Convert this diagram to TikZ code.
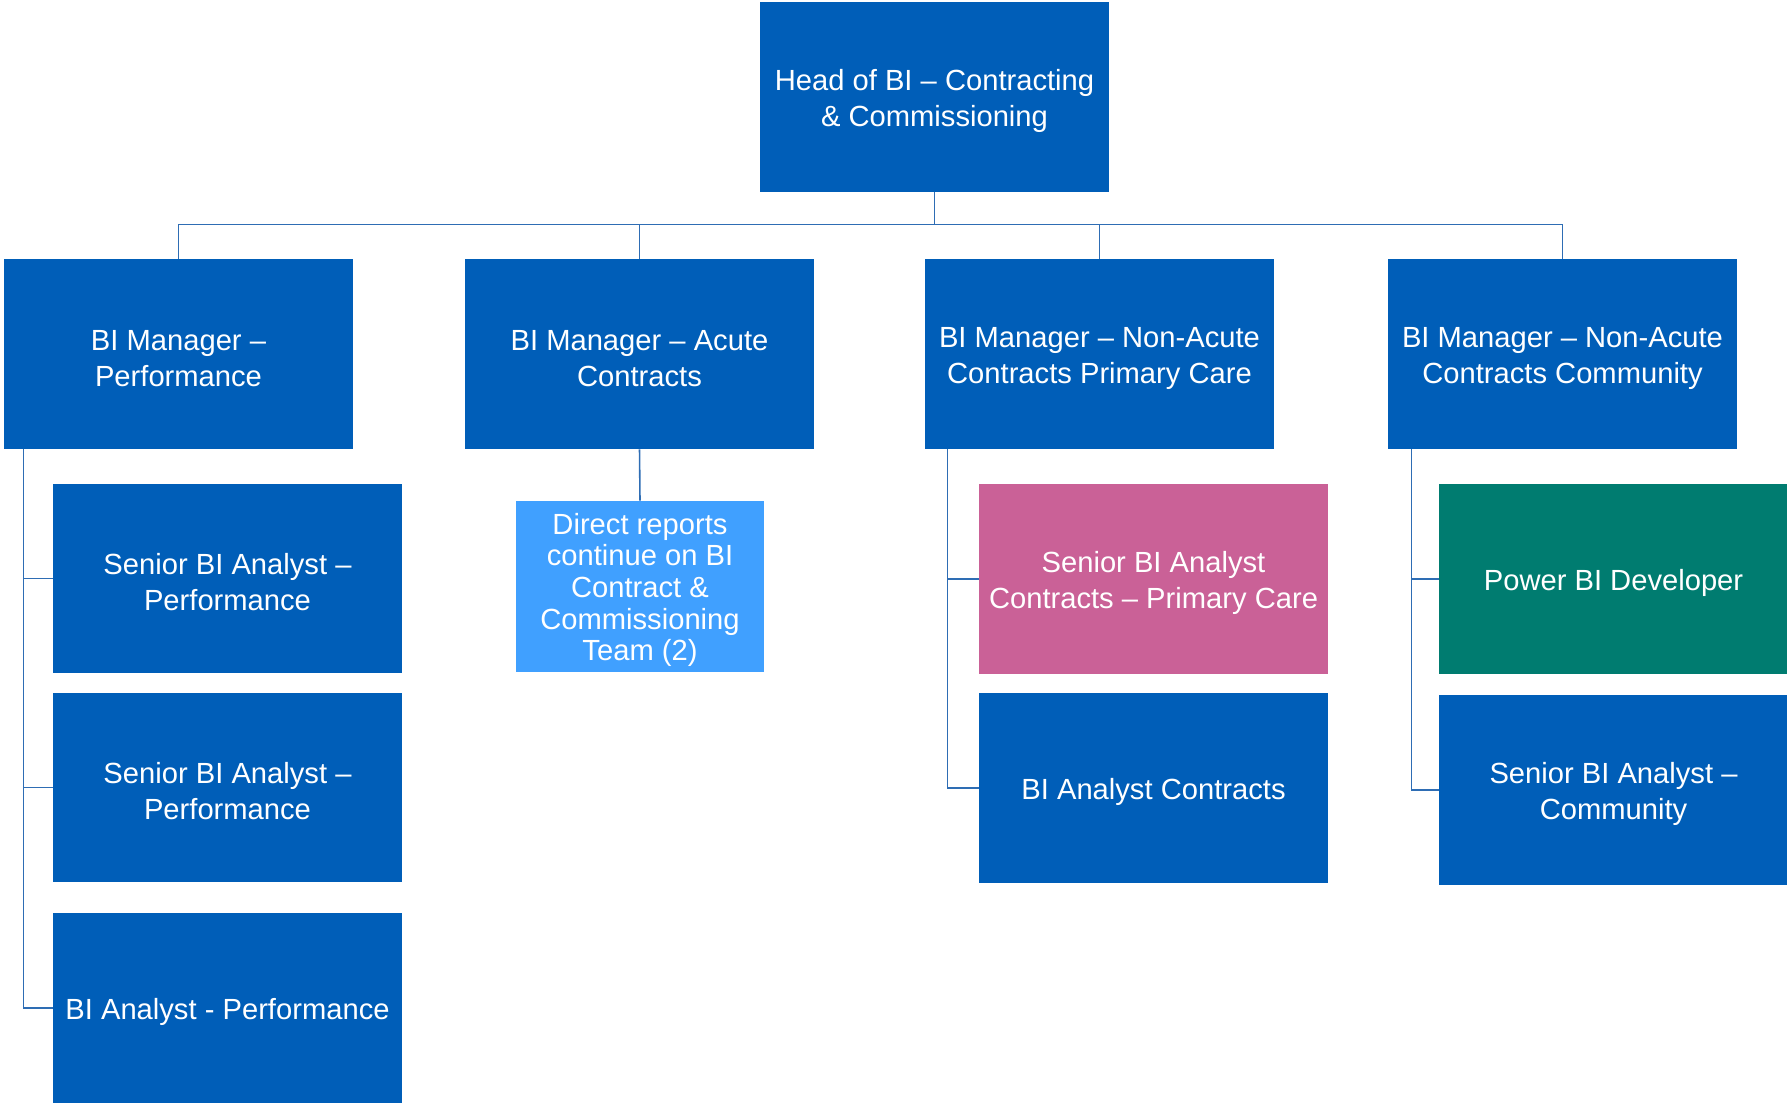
\documentclass[tikz,border=0pt]{standalone}
\usepackage{fontspec}
\setmainfont{Liberation Sans}
\usepackage{tikz}
\usetikzlibrary{calc}

\definecolor{nhsblue}{HTML}{005EB8}
\definecolor{lightblue}{HTML}{40A0FF}
\definecolor{rose}{HTML}{CA6197}
\definecolor{teal}{HTML}{007C70}
\definecolor{linkblue}{HTML}{2E6DB4}

\tikzset{
  lift/.store in=\liftht, lift=37pt,
  post/.style={fill=nhsblue, text=white, minimum width=6.98cm, minimum height=3.8cm,
    align=center, inner sep=2pt, font=\fontsize{16.6}{20.5}\selectfont,
    execute at begin node={\rule{0pt}{\liftht}}},
  single/.style={lift=16pt},
  link/.style={draw=linkblue, line width=0.9pt}
}

\begin{document}
\begin{tikzpicture}[x=0.02cm, y=-0.02cm]
\clip (0,0) rectangle (1787,1102);

\node[post] (head) at (934.5,97) {Head of BI -- Contracting\\ \& Commissioning};

\node[post] (m1) at (178.5,354) {BI Manager --\\ Performance};
\node[post] (m2) at (639.5,354) {BI Manager -- Acute\\ Contracts};
\node[post] (m3) at (1099.5,354) {BI Manager -- Non-Acute\\ Contracts Primary Care};
\node[post] (m4) at (1562.5,354) {BI Manager -- Non-Acute\\ Contracts Community};

\node[post] (a1) at (227.5,578.5) {Senior BI Analyst --\\ Performance};
\node[post] (a2) at (227.5,787.5) {Senior BI Analyst --\\ Performance};
\node[post, single] (a3) at (227.5,1008) {BI Analyst - Performance};

\node[post, fill=lightblue, minimum width=4.96cm, minimum height=3.42cm,
  font=\fontsize{16.6}{18}\selectfont, lift=88pt] (d) at (640,586.5)
  {Direct reports\\ continue on BI\\ Contract \&\\ Commissioning\\ Team (2)};

\node[post, fill=rose] (c1) at (1153.5,579) {Senior BI Analyst\\ Contracts -- Primary Care};
\node[post, single] (c2) at (1153.5,788) {BI Analyst Contracts};

\node[post, single, fill=teal] (p1) at (1613.5,579) {Power BI Developer};
\node[post] (p2) at (1613.5,790) {Senior BI Analyst --\\ Community};

% head to managers
\foreach \m in {m1,m2,m3,m4}
  \draw[link] (head.south) -- ++(0,32) -| (\m.north);

% managers to their teams
\foreach \c in {a1,a2,a3}
  \draw[link] ($(m1.south west)+(20,0)$) |- (\c.west);
\draw[link] (m2.south) -- (d.north);
\foreach \c in {c1,c2}
  \draw[link] ($(m3.south west)+(23,0)$) |- (\c.west);
\foreach \c in {p1,p2}
  \draw[link] ($(m4.south west)+(24,0)$) |- (\c.west);
\end{tikzpicture}
\end{document}
